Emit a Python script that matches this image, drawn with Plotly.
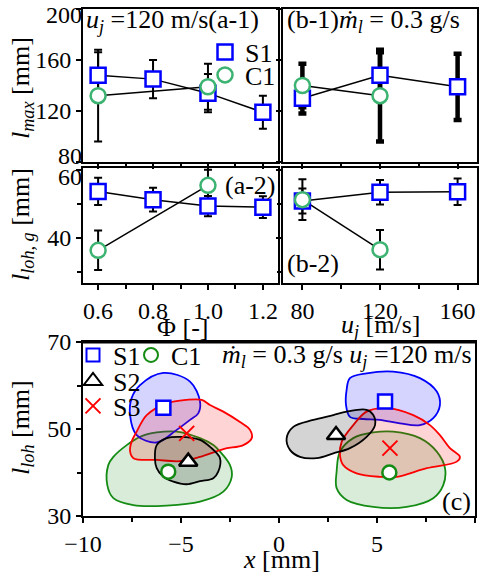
import plotly.graph_objects as go

# ---------------- data ----------------
# (a) equivalence-ratio sweep at u_j = 120 m/s
phi = [0.6, 0.8, 1.0, 1.2]
phi_labels = ["0.6", "0.8", "1.0", "1.2"]
phi_c1 = [0.6, 1.0]
lmax_s1_phi = [148, 145, 134, 119]
lmax_s1_phi_err = [18, 15, 15, 13]
lmax_c1_phi = [132, 139]
lmax_c1_phi_err = [36, 18]
lloh_s1_phi = [53.7, 51.3, 49.4, 49.1]
lloh_s1_phi_err = [4.0, 3.5, 3.0, 3.2]
lloh_c1_phi = [36.4, 55.5]
lloh_c1_phi_err = [5.8, 4.6]

# (b) jet-velocity sweep at m_l = 0.3 g/s
uj = [80, 120, 160]
uj_c1 = [80, 120]
lmax_s1_uj = [130, 148, 139]
lmax_s1_uj_err = [12, 18, 26]
lmax_c1_uj = [140, 132]
lmax_c1_uj_err = [17, 36]
lloh_s1_uj = [50.9, 53.5, 53.6]
lloh_s1_uj_err = [3.7, 3.6, 3.9]
lloh_c1_uj = [51.3, 36.6]
lloh_c1_uj_err = [6.0, 5.8]

# tick values
lmax_ticks = [80, 120, 160, 200]
lloh_ticks = [40, 60]
lloh_minor = [30, 50]
x_ticks = [-10, -5, 0, 5, 10]
y_ticks_c = [30, 50, 70]
y_minor_c = [40, 60]

# (c) flame-base distributions (contour outlines) and centroids
blue_l_x = [-7.60, -7.52, -7.09, -5.90, -4.54, -4.03, -4.12, -4.54, -5.22, -6.24, -7.26]
blue_l_y = [53.2, 57.1, 60.1, 62.9, 60.9, 56.3, 53.6, 52.1, 49.8, 46.9, 48.6]
red_l_x = [-7.26, -6.75, -5.73, -4.71, -3.94, -3.52, -2.84, -1.99, -1.48, -1.39, -1.82, -2.84,
           -4.03, -5.05, -6.24, -7.43, -7.60, -7.52]
red_l_y = [49.4, 53.2, 55.9, 56.7, 56.7, 55.5, 54.0, 51.6, 49.8, 47.9, 46.3, 45.4,
           43.6, 42.6, 42.9, 43.3, 44.9, 47.1]
green_l_x = [-8.76, -8.71, -8.45, -7.77, -7.09, -6.24, -5.22, -4.03, -3.35, -3.01, -2.50, -2.41,
             -2.84, -4.03, -5.73, -7.43, -8.45]
green_l_y = [37.1, 41.7, 43.6, 46.3, 48.2, 49.2, 49.4, 47.9, 46.3, 44.8, 41.7, 39.0,
             35.6, 33.3, 32.4, 32.5, 34.1]
black_l_x = [-6.24, -5.73, -5.05, -4.03, -3.52, -3.01, -3.10, -3.35, -4.03, -4.71, -5.39, -5.90,
             -6.24, -6.33]
black_l_y = [46.3, 47.9, 48.2, 47.5, 45.9, 43.3, 40.2, 38.7, 38.0, 37.3, 37.9, 39.0, 41.0, 43.3]

blue_r_x = [3.45, 3.62, 4.47, 5.83, 7.19, 8.05, 8.21, 7.87, 7.19, 6.17, 5.15, 4.30, 3.62, 3.42]
blue_r_y = [59.0, 61.7, 62.8, 63.2, 61.7, 58.6, 55.5, 52.5, 50.9, 51.3, 52.1, 52.3, 52.8, 55.5]
red_r_x = [3.11, 3.20, 3.79, 4.47, 5.49, 6.85, 7.70, 8.21, 8.72, 9.23, 9.07, 7.54, 6.01, 5.15,
           3.96, 3.28]
red_r_y = [44.0, 47.1, 50.9, 54.0, 54.8, 53.2, 50.9, 48.6, 45.6, 43.6, 42.5, 41.0, 39.0, 39.0,
           39.8, 41.7]
green_r_x = [2.94, 3.11, 3.79, 4.81, 5.83, 7.19, 8.05, 8.47, 8.38, 7.87, 6.51, 4.81, 3.45, 2.94]
green_r_y = [40.2, 44.8, 47.9, 49.2, 49.4, 47.9, 44.8, 41.0, 37.1, 34.1, 32.1, 32.1, 33.7, 36.4]
black_r_x = [0.39, 0.73, 1.75, 2.77, 3.45, 4.47, 4.81, 4.90, 4.47, 3.62, 2.77, 1.92, 1.07, 0.56]
black_r_y = [47.9, 50.5, 52.1, 53.2, 54.0, 54.4, 53.2, 50.9, 48.2, 45.6, 44.4, 43.3, 43.6, 45.2]

s1_x = [-5.90, 5.41]
s1_y = [54.9, 56.3]
c1_x = [-5.65, 5.63]
c1_y = [40.2, 40.0]
s2_x = [-4.63, 2.91]
s2_y = [42.5, 48.6]
s3_x = [-4.71, 5.66]
s3_y = [49.0, 45.6]

# ---------------- style ----------------
FONT = "'Liberation Serif', 'Times New Roman', Tinos, 'DejaVu Serif', serif"
BLUE = "#0000ff"
GREEN_TOP = "#3cb371"
GREEN = "#148c14"
W, H = 486, 576
TICK_FS = 24
TXT_FS = 26


def px_x(p):
    return p / W


def px_y(p):
    return 1 - p / H


fig = go.Figure()


def add_series(x, y, err, xa, ya, thick, cap):
    fig.add_trace(go.Scatter(
        x=x, y=y, mode="lines", line=dict(color="black", width=1.5),
        error_y=dict(type="data", array=err, visible=True, color="black",
                     thickness=thick, width=cap),
        xaxis=xa, yaxis=ya, showlegend=False, hoverinfo="skip"))


def add_markers(x, y, xa, ya, symbol, color, size=15):
    fig.add_trace(go.Scatter(
        x=x, y=y, mode="markers",
        marker=dict(symbol=symbol, size=size, color="white",
                    line=dict(color=color, width=2.5)),
        xaxis=xa, yaxis=ya, showlegend=False))


# (a-1)
add_series(phi, lmax_s1_phi, lmax_s1_phi_err, "x", "y", 2, 4)
add_series(phi_c1, lmax_c1_phi, lmax_c1_phi_err, "x", "y", 2, 4)
add_markers(phi, lmax_s1_phi, "x", "y", "square", BLUE)
add_markers(phi_c1, lmax_c1_phi, "x", "y", "circle", GREEN_TOP)
# (b-1)
add_series(uj, lmax_s1_uj, lmax_s1_uj_err, "x2", "y2", 4.5, 4)
add_series(uj_c1, lmax_c1_uj, lmax_c1_uj_err, "x2", "y2", 4.5, 4)
add_markers(uj, lmax_s1_uj, "x2", "y2", "square", BLUE)
add_markers(uj_c1, lmax_c1_uj, "x2", "y2", "circle", GREEN_TOP)
# (a-2)
add_series(phi, lloh_s1_phi, lloh_s1_phi_err, "x3", "y3", 2, 4)
add_series(phi_c1, lloh_c1_phi, lloh_c1_phi_err, "x3", "y3", 2, 4)
add_markers(phi, lloh_s1_phi, "x3", "y3", "square", BLUE)
add_markers(phi_c1, lloh_c1_phi, "x3", "y3", "circle", GREEN_TOP)
# (b-2)
add_series(uj, lloh_s1_uj, lloh_s1_uj_err, "x4", "y4", 2, 4)
add_series(uj_c1, lloh_c1_uj, lloh_c1_uj_err, "x4", "y4", 2, 4)
add_markers(uj, lloh_s1_uj, "x4", "y4", "square", BLUE)
add_markers(uj_c1, lloh_c1_uj, "x4", "y4", "circle", GREEN_TOP)


# (c) blobs
def blob(xs, ys, color, fill):
    fig.add_trace(go.Scatter(
        x=xs + xs[:1], y=ys + ys[:1], mode="lines", fill="toself", fillcolor=fill,
        line=dict(color=color, width=1.8, shape="spline", smoothing=1.0),
        xaxis="x5", yaxis="y5", showlegend=False, hoverinfo="skip"))


blob(green_l_x, green_l_y, GREEN, "rgba(0,128,0,0.15)")
blob(green_r_x, green_r_y, GREEN, "rgba(0,128,0,0.15)")
blob(blue_l_x, blue_l_y, BLUE, "rgba(0,0,255,0.17)")
blob(blue_r_x, blue_r_y, BLUE, "rgba(0,0,255,0.17)")
blob(red_l_x, red_l_y, "#ff0000", "rgba(255,0,0,0.17)")
blob(red_r_x, red_r_y, "#ff0000", "rgba(255,0,0,0.17)")
blob(black_l_x, black_l_y, "black", "rgba(0,0,0,0.17)")
blob(black_r_x, black_r_y, "black", "rgba(0,0,0,0.17)")

add_markers(s1_x, s1_y, "x5", "y5", "square", BLUE, 14)
add_markers(c1_x, c1_y, "x5", "y5", "circle", GREEN, 14)
add_markers(s2_x, s2_y, "x5", "y5", "triangle-up", "black", 16)
fig.add_trace(go.Scatter(x=s3_x, y=s3_y, mode="markers",
                         marker=dict(symbol="x-thin", size=15, line=dict(color="#ff0000", width=2)),
                         xaxis="x5", yaxis="y5", showlegend=False))

# placeholders so the label-only overlay axes are drawn
for ya, xa in (("y6", "x"), ("y7", "x"), ("y8", "x3")):
    fig.add_trace(go.Scatter(x=[None], y=[None], xaxis=xa, yaxis=ya, showlegend=False,
                             hoverinfo="skip"))


# legend-only entries (one legend each so they can be placed freely)
def leg(name, symbol, color, legend, size=15, lw=2.5):
    fig.add_trace(go.Scatter(
        x=[None], y=[None], mode="markers", name=name,
        marker=dict(symbol=symbol, size=size, color="white", line=dict(color=color, width=lw)),
        legend=legend, showlegend=True))


leg("S1", "square", BLUE, "legend")
leg("C1", "circle", GREEN_TOP, "legend2")
leg("S1", "square", BLUE, "legend3", 13, 2)
leg("C1", "circle", GREEN, "legend4", 14, 2)
leg("S2", "triangle-up", "black", "legend5", 16, 2)
leg("S3", "x-thin", "#ff0000", "legend6", 15, 2)

# ---------------- axes ----------------
tickfont = dict(family=FONT, size=TICK_FS, color="black")
common = dict(showline=True, linecolor="black", linewidth=2, mirror=True,
              ticks="outside", ticklen=5, tickwidth=1.5, tickcolor="black",
              showgrid=False, zeroline=False, tickfont=tickfont)
minor_t = dict(ticks="outside", ticklen=4, tickcolor="black", tickwidth=1.5)
label_only = dict(showline=False, ticks="", ticklen=5, showgrid=False, zeroline=False,
                  tickfont=tickfont, side="left")

top1, bot1 = 9, 162
top2, bot2 = 168, 283
top3, bot3 = 342, 516
left_c, right_c = 83, 475
d_a_x = [px_x(83), px_x(278)]
d_b_x = [px_x(283), px_x(477)]
d_1_y = [px_y(bot1), px_y(top1)]
d_2_y = [px_y(bot2), px_y(top2)]
lmax_range = [80, 200]
lloh_range = [26.8, 60.6]

# end labels are nudged inwards (as in the original figure) by offsetting label-only overlays
u1 = (lmax_range[1] - lmax_range[0]) / (bot1 - top1)   # data units per pixel
u2 = (lloh_range[1] - lloh_range[0]) / (bot2 - top2)
lmax_range_lo = [lmax_range[0] - 6 * u1, lmax_range[1] - 6 * u1]   # 80 label 6 px up
lmax_range_hi = [lmax_range[0] + 6 * u1, lmax_range[1] + 6 * u1]   # 200 label 6 px down
lloh_range_hi = [lloh_range[0] + 7 * u2, lloh_range[1] + 7 * u2]   # 60 label 7 px down

fig.update_layout(
    xaxis=dict(domain=d_a_x, anchor="y", range=[0.545, 1.255], tickvals=phi,
               showticklabels=False, minor=dict(dtick=0.1, **minor_t), **common),
    yaxis=dict(domain=d_1_y, anchor="x", range=lmax_range, tickvals=lmax_ticks,
               ticktext=["" if v in (lmax_ticks[0], lmax_ticks[-1]) else str(v) for v in lmax_ticks],
               **common),
    yaxis6=dict(overlaying="y", anchor="x", range=lmax_range_lo, tickvals=lmax_ticks[:1],
                ticktext=[str(lmax_ticks[0])], **label_only),
    yaxis7=dict(overlaying="y", anchor="x", range=lmax_range_hi, tickvals=lmax_ticks[-1:],
                ticktext=[str(lmax_ticks[-1])], **label_only),
    xaxis2=dict(domain=d_b_x, anchor="y2", range=[70, 170], tickvals=uj,
                showticklabels=False, minor=dict(dtick=20, **minor_t), **common),
    yaxis2=dict(domain=d_1_y, anchor="x2", range=lmax_range, tickvals=lmax_ticks,
                showticklabels=False, **common),
    xaxis3=dict(domain=d_a_x, anchor="y3", range=[0.545, 1.255], tickvals=phi,
                ticktext=phi_labels, minor=dict(dtick=0.1, **minor_t), **common),
    yaxis3=dict(domain=d_2_y, anchor="x3", range=lloh_range, tickvals=lloh_ticks,
                ticktext=[str(lloh_ticks[0]), ""],
                minor=dict(tickvals=lloh_minor, **minor_t), **common),
    yaxis8=dict(overlaying="y3", anchor="x3", range=lloh_range_hi, tickvals=lloh_ticks[-1:],
                ticktext=[str(lloh_ticks[-1])], **label_only),
    xaxis4=dict(domain=d_b_x, anchor="y4", range=[70, 170], tickvals=uj,
                minor=dict(dtick=20, **minor_t), **common),
    yaxis4=dict(domain=d_2_y, anchor="x4", range=lloh_range, tickvals=lloh_ticks,
                showticklabels=False, minor=dict(tickvals=lloh_minor, **minor_t), **common),
    xaxis5=dict(domain=[px_x(left_c), px_x(right_c)], anchor="y5", range=[-10, 10],
                tickvals=x_ticks, minor=dict(dtick=2.5, **minor_t), **common),
    yaxis5=dict(domain=[px_y(bot3), px_y(top3)], anchor="x5", range=[30, 70], tickvals=y_ticks_c,
                minor=dict(tickvals=y_minor_c, **minor_t), **common),
)

# heavier top frame edge of panel (c), as in the original
fig.add_shape(type="line", xref="paper", yref="paper",
              x0=px_x(left_c - 1), x1=px_x(right_c + 1), y0=px_y(top3), y1=px_y(top3),
              line=dict(color="black", width=3), layer="above")

legfont = dict(family=FONT, size=TXT_FS, color="black")


def legpos(cx, cy):
    # cx, cy: pixel centre of the legend symbol
    return dict(x=px_x(cx - 25), y=px_y(cy), xanchor="left", yanchor="middle", font=legfont,
                bgcolor="rgba(0,0,0,0)", borderwidth=0, itemwidth=30)


fig.update_layout(
    legend=legpos(230, 52),
    legend2=legpos(230, 75),
    legend3=legpos(98, 355),
    legend4=legpos(156, 355),
    legend5=legpos(98, 381),
    legend6=legpos(98, 406),
)


# ---------------- text ----------------
def ann(text, x, y, xanchor="center", angle=0, size=TXT_FS):
    fig.add_annotation(text=text, x=x, y=y, xref="paper", yref="paper", showarrow=False,
                       xanchor=xanchor, yanchor="middle", textangle=angle,
                       font=dict(family=FONT, size=size, color="black"))


ann("<i>l</i><sub><i>max</i></sub> [mm]", px_x(22), px_y(88), angle=-90)
ann("<i>l</i><sub><i>loh, g</i></sub> [mm]", px_x(22), px_y(225), angle=-90)
ann("<i>l</i><sub><i>loh</i></sub> [mm]", px_x(22), px_y(428), angle=-90)
ann("Φ [-]", px_x(182), px_y(327))
ann("<i>u</i><sub><i>j</i></sub> [m/s]", px_x(380), px_y(326))
ann("<i>x</i> [mm]", px_x(281), px_y(559))
ann("<i>u</i><sub><i>j</i></sub> =120 m/s(a-1)", px_x(84), px_y(21), xanchor="left")
ann("(b-1)<i>ṁ</i><sub><i>l</i></sub> = 0.3 g/s", px_x(285), px_y(21), xanchor="left")
ann("(a-2)", px_x(278), px_y(185), xanchor="right")
ann("(b-2)", px_x(285), px_y(263), xanchor="left")
ann("<i>ṁ</i><sub><i>l</i></sub> = 0.3 g/s <i>u</i><sub><i>j</i></sub> =120 m/s",
    px_x(474), px_y(356), xanchor="right")
ann("(c)", px_x(473), px_y(501), xanchor="right")

fig.update_layout(width=W, height=H,
                  margin=dict(l=0, r=0, t=0, b=0, pad=0, autoexpand=False),
                  plot_bgcolor="white", paper_bgcolor="white",
                  font=dict(family=FONT, size=TXT_FS, color="black"))

fig.write_html("out.html")
